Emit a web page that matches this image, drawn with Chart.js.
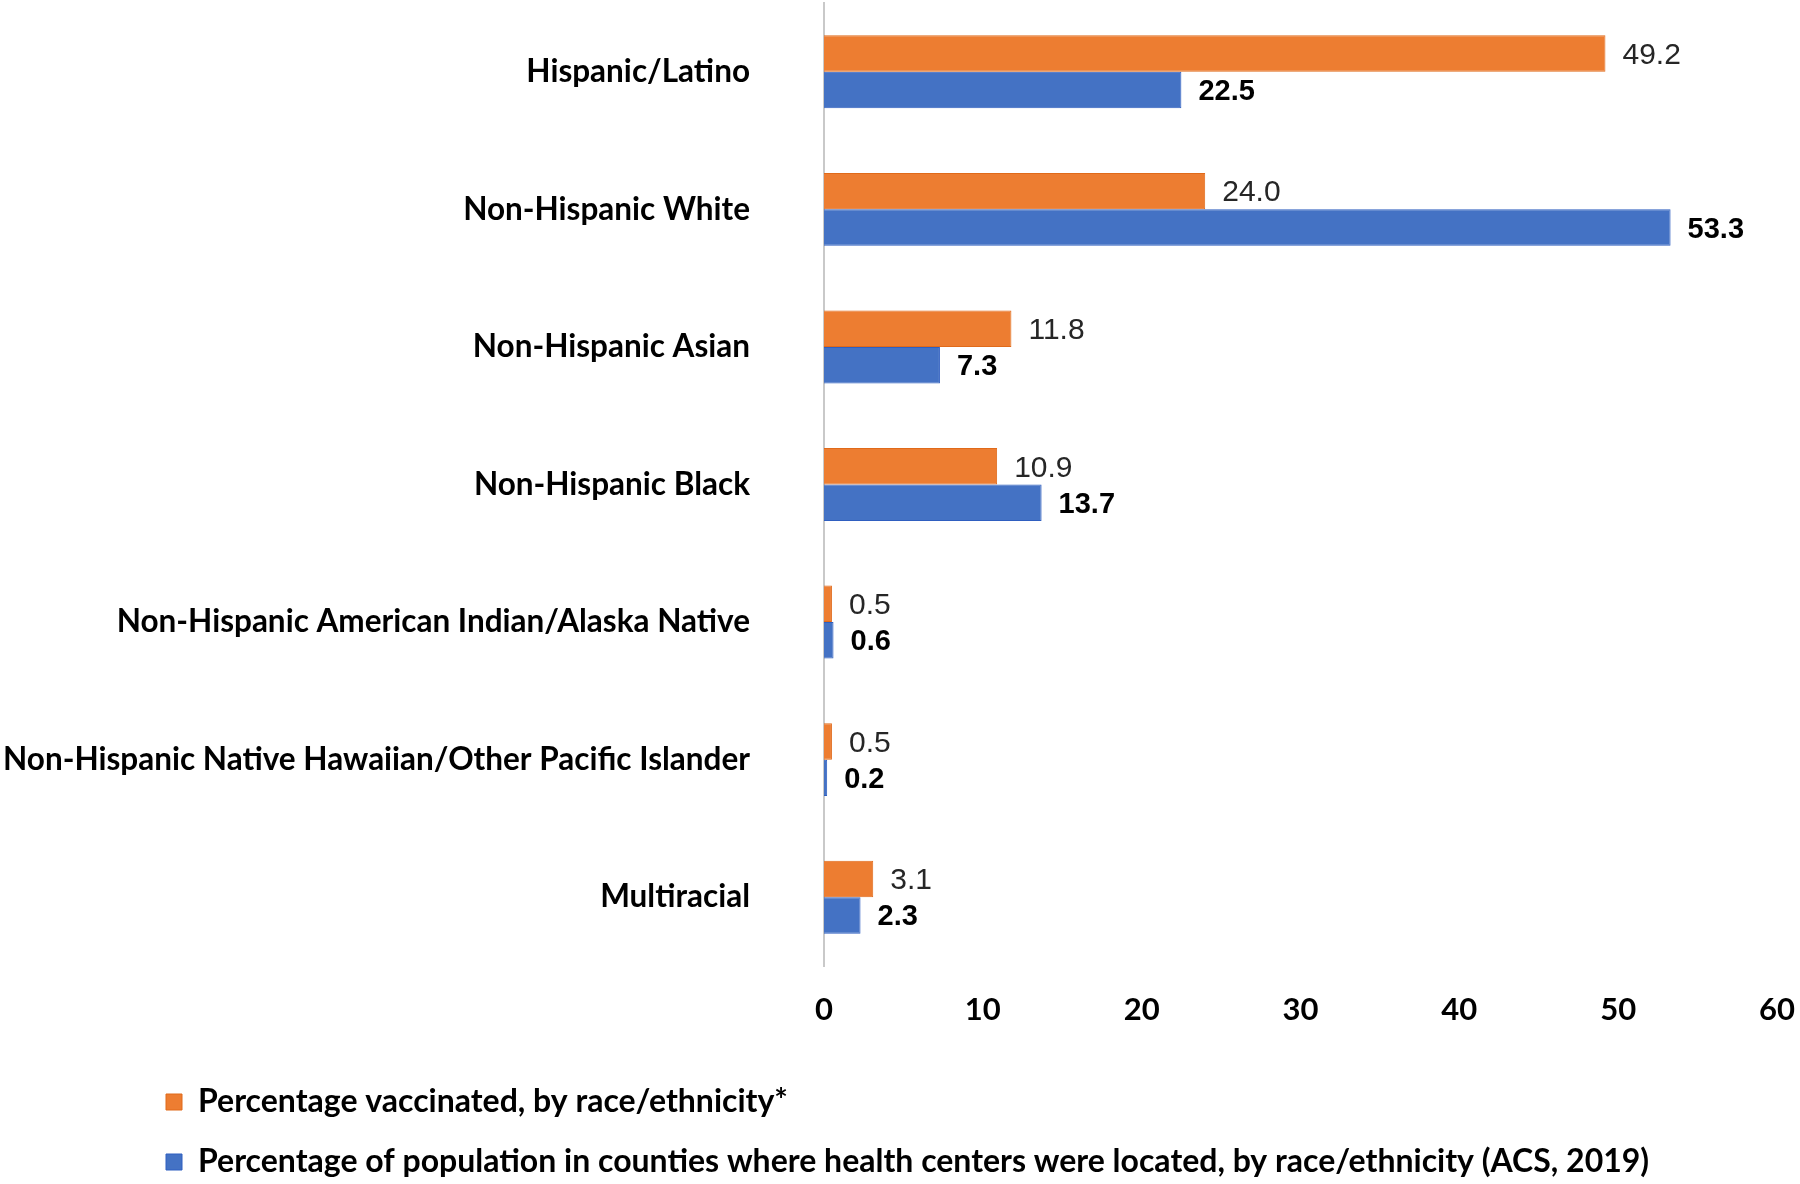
<!DOCTYPE html>
<html>
<head>
<meta charset="utf-8">
<script src="https://cdn.jsdelivr.net/npm/chart.js@4"></script>
<style>
  html, body { margin: 0; padding: 0; background: #fff; }
  #wrap { width: 1800px; height: 1184px; position: relative; }
</style>
</head>
<body>
<div id="wrap"><canvas id="raceChart"></canvas></div>
<script>
// === Data ===
const categories = [
    "Hispanic/Latino",
    "Non-Hispanic White",
    "Non-Hispanic Asian",
    "Non-Hispanic Black",
    "Non-Hispanic American Indian/Alaska Native",
    "Non-Hispanic Native Hawaiian/Other Pacific Islander",
    "Multiracial"
];
const vaccinatedPct = [49.2, 24.0, 11.8, 10.9, 0.5, 0.5, 3.1];
const populationPct = [22.5, 53.3, 7.3, 13.7, 0.6, 0.2, 2.3];
const xTicks = [0, 10, 20, 30, 40, 50, 60];

const seriesNames = [
    "Percentage vaccinated, by race/ethnicity*",
    "Percentage of population in counties where health centers were located, by race/ethnicity (ACS, 2019)"
];

const LABEL_FONT = "Lato, 'Open Sans', sans-serif";

// value labels at the end of each bar
const barValueLabels = {
    id: 'barValueLabels',
    afterDatasetsDraw(chart) {
        const ctx = chart.ctx;
        ctx.save();
        ctx.textBaseline = 'middle';
        ctx.textAlign = 'left';
        chart.data.datasets.forEach((ds, i) => {
            const meta = chart.getDatasetMeta(i);
            ctx.font = i === 0
                ? "400 30px 'Liberation Sans', Arial, sans-serif"
                : "700 29px 'Liberation Sans', Arial, sans-serif";
            ctx.fillStyle = i === 0 ? '#262626' : '#000000';
            meta.data.forEach((bar, j) => {
                ctx.fillText(ds.data[j].toFixed(1), bar.x + 17, bar.y + 2);
            });
        });
        ctx.restore();
    }
};

// push the legend over to the left like the original
const legendLeft = {
    id: 'legendLeft',
    afterLayout(chart) {
        if (chart.legend) chart.legend.left = 138;
    }
};

new Chart(document.getElementById("raceChart"), {
    type: "bar",
    data: {
        labels: categories,
        datasets: [
            {
                label: seriesNames[0],
                data: vaccinatedPct,
                backgroundColor: '#ED7D31',
                borderColor: '#E06A1A',
                borderWidth: 1
            },
            {
                label: seriesNames[1],
                data: populationPct,
                backgroundColor: '#4472C4',
                borderColor: '#2F5FC0',
                borderWidth: 1
            }
        ]
    },
    options: {
        indexAxis: 'y',
        responsive: true,
        maintainAspectRatio: false,
        animation: false,
        layout: { padding: { top: 3, right: 23, bottom: -4, left: 0 } },
        datasets: {
            bar: { categoryPercentage: 0.53, barPercentage: 1.0 }
        },
        plugins: {
            tooltip: { enabled: false },
            legend: {
                position: 'bottom',
                align: 'start',
                labels: {
                    color: '#000',
                    font: { family: LABEL_FONT, size: 32, weight: '700' },
                    boxWidth: 16,
                    boxHeight: 16,
                    padding: 28
                }
            }
        },
        scales: {
            x: {
                min: 0,
                max: 60,
                afterBuildTicks(scale) {
                    scale.ticks = xTicks.map(v => ({ value: v }));
                },
                afterFit(scale) {
                    scale.height = 92;
                    scale.paddingLeft = 0;
                    scale.paddingRight = 0;
                },
                grid: { display: false, drawTicks: false },
                border: { display: false },
                ticks: {
                    color: '#000',
                    padding: 25,
                    font: { family: LABEL_FONT, size: 31, weight: '700' }
                }
            },
            y: {
                afterFit(scale) {
                    scale.width = 824;
                    scale.paddingTop = 0;
                    scale.paddingBottom = 0;
                },
                grid: { display: false, drawTicks: false },
                border: { display: true, color: '#c9c9c9', width: 2 },
                ticks: {
                    color: '#000',
                    padding: 74,
                    font: { family: LABEL_FONT, size: 31.5, weight: '700' }
                }
            }
        }
    },
    plugins: [barValueLabels, legendLeft]
});
</script>
</body>
</html>
